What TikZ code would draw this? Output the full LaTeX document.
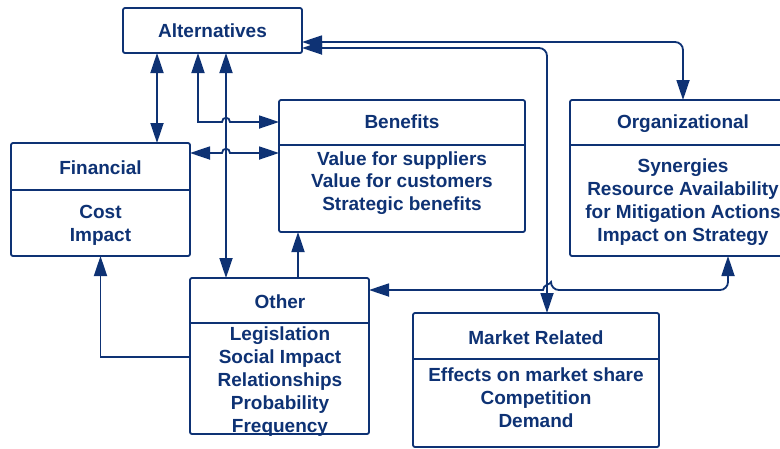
\documentclass[tikz,border=0pt]{standalone}
\usepackage{fontspec}
\setmainfont{Liberation Sans}
\usetikzlibrary{arrows.meta}
\definecolor{navy}{RGB}{14,50,116}
\begin{document}
\begin{tikzpicture}[x=1pt,y=-1pt,
  font=\fontsize{19}{22.8}\selectfont\bfseries,
  >={Triangle[length=20pt,width=13pt]},
  card/.style={draw=navy, line width=1.8pt, rounded corners=2pt, fill=white,
    inner sep=0pt, outer sep=0pt, text=navy},
  txt/.style={align=center, inner sep=0pt, text=navy},
  head/.style={inner sep=0pt, text=navy, anchor=base},
  rule/.style={draw=navy, line width=1.8pt},
  link/.style={draw=navy, line width=1.8pt},
  hop/.style={out=90, in=90, looseness=1.8}]

\useasboundingbox (0,0) rectangle (780,448);

% boxes
\node[card, minimum width=179pt, minimum height=45pt] (alt) at (212.5,30.5) {Alternatives};

\node[card, minimum width=246pt, minimum height=132pt] (ben) at (402,166) {};
\draw[rule] ([yshift=-45pt]ben.north west) -- ([yshift=-45pt]ben.north east);
\node[head] (ben-t) at (402,128) {Benefits};
\node[txt] (ben-b) at (402,183) {Value for suppliers\\Value for customers\\Strategic benefits};

\node[card, minimum width=179pt, minimum height=113pt] (fin) at (100.5,199.5) {};
\draw[rule] ([yshift=-47pt]fin.north west) -- ([yshift=-47pt]fin.north east);
\node[head] (fin-t) at (100.5,174) {Financial};
\node[txt] (fin-b) at (100.5,225) {Cost\\Impact};

\node[card, minimum width=226pt, minimum height=156pt] (org) at (683,178) {};
\draw[rule] ([yshift=-45pt]org.north west) -- ([yshift=-45pt]org.north east);
\node[head] (org-t) at (683,128) {Organizational};
\node[txt] (org-b) at (683,202) {Synergies\\Resource Availability\\for Mitigation Actions\\Impact on Strategy};

\node[card, minimum width=179pt, minimum height=156pt] (oth) at (279.5,356) {};
\draw[rule] ([yshift=-45pt]oth.north west) -- ([yshift=-45pt]oth.north east);
\node[head] (oth-t) at (280,308) {Other};
\node[txt] (oth-b) at (280,381.5) {Legislation\\Social Impact\\Relationships\\Probability\\Frequency};

\node[card, minimum width=246pt, minimum height=134pt] (mkt) at (536,380) {};
\draw[rule] ([yshift=-46pt]mkt.north west) -- ([yshift=-46pt]mkt.north east);
\node[head] (mkt-t) at (536,344) {Market Related};
\node[txt] (mkt-b) at (536,397.5) {Effects on market share\\Competition\\Demand};

% crossing points where a line hops over another
\coordinate (hopB) at (226,122);
\coordinate (hopD) at (226,153);
\coordinate (hopI) at (547,290);

% connectors
\draw[link,<->] ([xshift=34pt]alt.south west) -- ([xshift=146pt]fin.north west);
\draw[link,<->] ([xshift=75pt]alt.south west) |- ([xshift=-4pt]hopB)
  to[hop] ([xshift=4pt]hopB) -- ([yshift=-22pt]ben.north west);
\draw[link,<->] ([xshift=103pt]alt.south west) -- ([xshift=36pt]oth.north west);
\draw[link,<->] ([yshift=-10pt]fin.north east) -- ([xshift=-4pt]hopD)
  to[hop] ([xshift=4pt]hopD) -- ([yshift=-53pt]ben.north west);
\draw[link,->] ([xshift=108pt]oth.north west) -- ([xshift=19pt]ben.south west);
\draw[link,->] ([yshift=-79pt]oth.north west) -| (fin.south);
\draw[link,<->,rounded corners=8pt] ([yshift=-11.5pt]alt.east) -| (org.north);
\draw[link,<->,rounded corners=8pt] ([yshift=-17.5pt]alt.east) -| ([xshift=11pt]mkt.north);
\draw[link,<->] ([xshift=45pt]org.south) [rounded corners=8pt] |- ([xshift=4pt]hopI)
  [sharp corners] to[hop] ([xshift=-4pt]hopI) -- ([yshift=66pt]oth.east);
\end{tikzpicture}
\end{document}
